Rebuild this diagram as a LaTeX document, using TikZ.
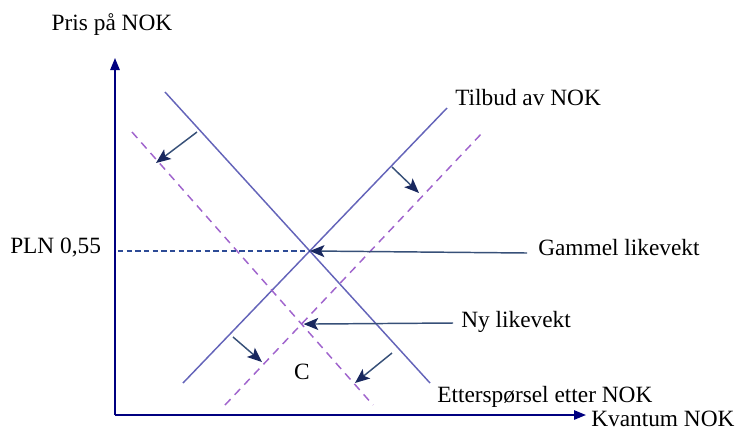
\documentclass[tikz,border=0pt]{standalone}
\usepackage{fontspec}
\setmainfont{Liberation Serif}
\usetikzlibrary{arrows.meta}

\definecolor{kurvefarge}{RGB}{100,100,185}
\definecolor{skiftfarge}{RGB}{160,100,205}
\definecolor{aksefarge}{RGB}{0,0,128}
\definecolor{pilfarge}{RGB}{55,80,120}
\definecolor{hodefarge}{RGB}{25,40,95}
\definecolor{prisfarge}{RGB}{45,75,150}

\tikzset{
	kurve/.style={draw=kurvefarge, line width=1.1pt},
	skiftkurve/.style={draw=skiftfarge, line width=1.1pt, dash pattern=on 6pt off 4.5pt},
	akse/.style={draw=aksefarge, line width=1.3pt, -{Triangle[length=9pt,width=7pt]}},
	skiftpil/.style={draw=pilfarge, line width=1.1pt, -{Stealth[length=11pt,width=9pt,inset=2.5pt,color=hodefarge]}},
	tekst/.style={font=\fontsize{17.5}{20}\selectfont, inner sep=0pt},
}

\begin{document}
\begin{tikzpicture}[x=0.75pt,y=-0.75pt]
		\useasboundingbox (0,0) rectangle (739,430);

		% akser
		\coordinate (O) at (115,415);
		\draw[akse] (O) -- (115,58);
		\draw[akse] (O) -- (586,415);

		% gamle kurver
		\coordinate (d1a) at (165,92);
		\coordinate (d1b) at (430,383);
		\coordinate (s1a) at (183,383);
		\coordinate (s1b) at (447,108);
		\draw[kurve] (d1a) -- (d1b);
		\draw[kurve] (s1a) -- (s1b);

		% nye kurver
		\coordinate (d2a) at (132,132);
		\coordinate (d2b) at (373,405);
		\coordinate (s2a) at (225,405);
		\coordinate (s2b) at (483,132);
		\draw[skiftkurve] (d2a) -- (d2b);
		\draw[skiftkurve] (s2a) -- (s2b);

		% likevekter
		\coordinate (eq) at (intersection of d1a--d1b and s1a--s1b);
		\coordinate (nyeq) at (intersection of d2a--d2b and s2a--s2b);
		\draw[draw=prisfarge, line width=1.1pt, dash pattern=on 4pt off 2.5pt] (eq -| O) ++(3,0) -- (eq);

		% tekster
		\node[tekst, anchor=base] (pris) at (112,30) {Pris på NOK};
		\node[tekst, anchor=base west] (kvantum) at (591,426) {Kvantum NOK};
		\node[tekst, anchor=base west] (pln) at (10,253) {PLN 0,55};
		\node[tekst, anchor=base west] (tilbud) at (455,105) {Tilbud av NOK};
		\node[tekst, anchor=base west] (gammel) at (538,255) {Gammel likevekt};
		\node[tekst, anchor=base west] (ny) at (461,327) {Ny likevekt};
		\node[tekst, anchor=base west] (ettersp) at (437,402) {Etterspørsel etter NOK};
		\node[tekst, anchor=base] (c) at (302,379) {C};

		% piler til likevektene
		\coordinate (gammelstart) at (527,253);
		\coordinate (nystart) at (453,323);
		\draw[skiftpil] (gammelstart) -- (eq);
		\draw[skiftpil] (nystart) -- ([xshift=1.5pt]nyeq);

		% skiftpiler
		\coordinate (p1a) at (197,132);
		\coordinate (p1b) at (156,163);
		\coordinate (p2a) at (392,167);
		\coordinate (p2b) at (419,193);
		\coordinate (p3a) at (233,337);
		\coordinate (p3b) at (262,362);
		\coordinate (p4a) at (392,353);
		\coordinate (p4b) at (355,383);
		\draw[skiftpil] (p1a) -- (p1b);
		\draw[skiftpil] (p2a) -- (p2b);
		\draw[skiftpil] (p3a) -- (p3b);
		\draw[skiftpil] (p4a) -- (p4b);
	\end{tikzpicture}
\end{document}
